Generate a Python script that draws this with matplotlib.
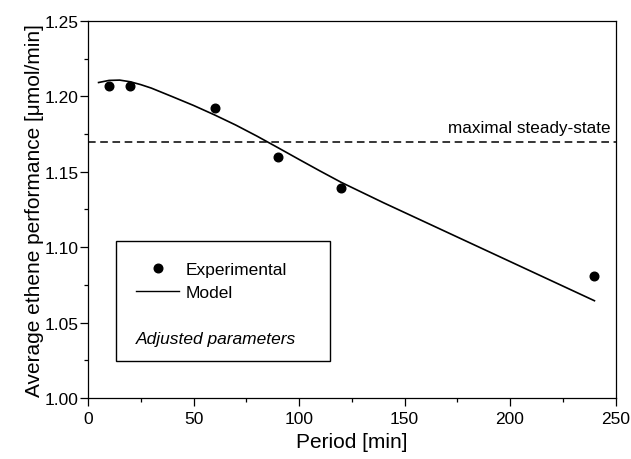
import matplotlib
matplotlib.use('Agg')
import matplotlib.pyplot as plt
from matplotlib.lines import Line2D
from matplotlib.patches import Rectangle
from matplotlib.ticker import MultipleLocator, FormatStrFormatter

plt.rcParams['font.family'] = ['Liberation Sans', 'DejaVu Sans']

# experimental points
period_exp = [10, 20, 60, 90, 120, 240]
perf_exp = [1.207, 1.207, 1.192, 1.160, 1.139, 1.081]

# model curve
period_model = [5, 10, 15, 20, 25, 30, 40, 50, 60, 70, 80, 90, 100, 110, 120,
                140, 160, 180, 200, 220, 240]
perf_model = [1.2092, 1.2106, 1.2108, 1.2097, 1.2078, 1.2055, 1.1998, 1.1940, 1.1877,
              1.1810, 1.1737, 1.1660, 1.1582, 1.1505, 1.1430, 1.1295, 1.1165, 1.1035,
              1.0905, 1.0775, 1.0645]

steady_state = 1.17

fig = plt.figure(figsize=(6.31, 4.60), dpi=100)
ax = fig.add_axes([0.1395, 0.1326, 0.836, 0.8196])

ax.plot(period_model, perf_model, color='black', lw=1.2)
ax.plot(period_exp, perf_exp, 'o', color='black', ms=6.2)
ax.axhline(steady_state, color='black', lw=1.1, ls=(0, (5, 3)))
ax.text(247.5, steady_state + 0.0045, 'maximal steady-state', ha='right', va='bottom', fontsize=12.3)

ax.set_xlim(0, 250)
ax.set_ylim(1.00, 1.25)
ax.xaxis.set_major_locator(MultipleLocator(50))
ax.xaxis.set_minor_locator(MultipleLocator(25))
ax.yaxis.set_major_locator(MultipleLocator(0.05))
ax.yaxis.set_minor_locator(MultipleLocator(0.025))
ax.yaxis.set_major_formatter(FormatStrFormatter('%.2f'))
ax.tick_params(which='both', direction='out', top=False, right=False, labelsize=12.5, width=0.9)
ax.tick_params(which='major', length=5.5, pad=1.5)
ax.tick_params(axis='x', which='major', pad=3.5)
ax.tick_params(which='minor', length=3)
for s in ax.spines.values():
    s.set_linewidth(0.9)

ax.set_xlabel('Period [min]', fontsize=15, labelpad=5)
ax.set_ylabel('Average ethene performance [\u03bcmol/min]', fontsize=15, labelpad=0)

# legend box
ax.add_patch(Rectangle((0.0525, 0.0989), 0.4063, 0.3168, transform=ax.transAxes,
                       fill=False, edgecolor='black', lw=1.0, zorder=5))
handles = [Line2D([], [], color='black', marker='o', ls='none', ms=6.2),
           Line2D([], [], color='black', lw=1.0)]
ax.legend(handles, ['Experimental', 'Model'], loc='upper left', bbox_to_anchor=(0.091, 0.362),
          frameon=False, fontsize=12.5, handlelength=2.5, handletextpad=0.35,
          borderpad=0, borderaxespad=0, labelspacing=0.45)
ax.text(0.091, 0.159, 'Adjusted parameters', transform=ax.transAxes, style='italic',
        fontsize=12.5, va='center', ha='left')

fig.savefig('out.png', dpi=100)
